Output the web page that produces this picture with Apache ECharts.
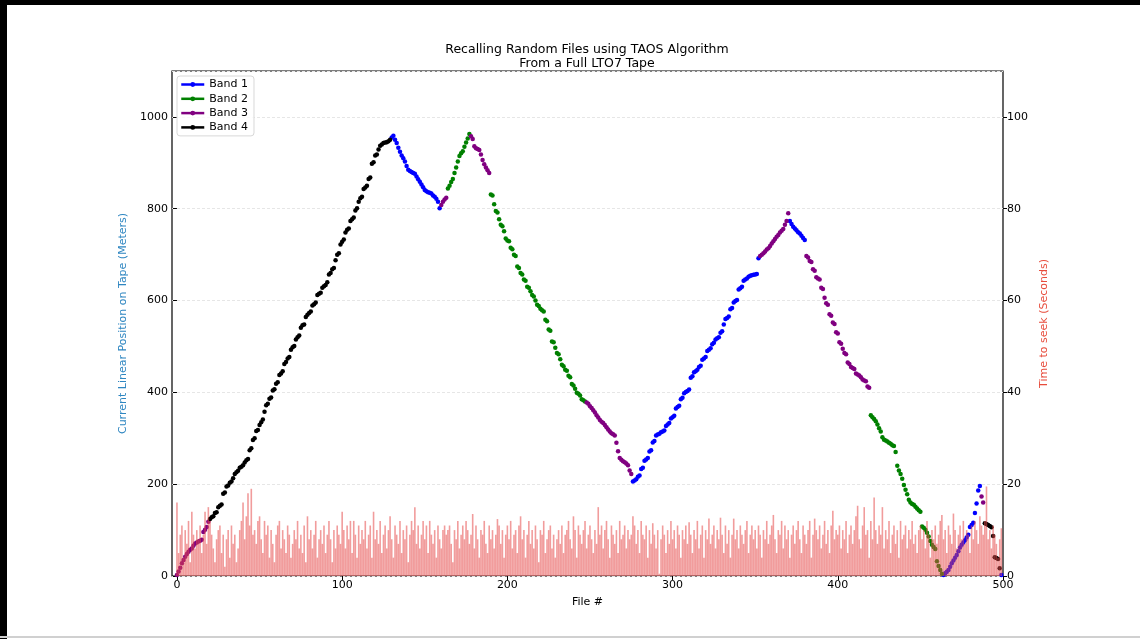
<!DOCTYPE html>
<html>
<head>
<meta charset="utf-8">
<script src="https://cdn.jsdelivr.net/npm/echarts@6/dist/echarts.min.js"></script>
<style>
  html, body { margin: 0; padding: 0; background: #fff; }
  #chart { width: 1140px; height: 639px; }
</style>
</head>
<body>
<div id="chart"></div>
<script>
// tape position (m) of each recalled file, file # = index
var position = [
  2, 10, 18, 28, 35, 42, 48, 53, 57, 60, 66, 71, 73, 75, 77, 79, 96, 101, 107, 118,
  124, 128, 130, 137, 139, 150, 153, 156, 179, 182, 195, 197, 203, 206, 213, 222, 226, 229, 236, 238,
  241, 247, 252, 255, 274, 278, 296, 300, 316, 318, 329, 335, 341, 358, 372, 375, 386, 389, 404, 407,
  419, 422, 438, 441, 446, 462, 466, 474, 477, 493, 498, 501, 515, 520, 524, 541, 546, 548, 564, 569,
  573, 576, 589, 592, 596, 612, 615, 617, 628, 631, 634, 640, 657, 660, 668, 671, 688, 700, 703, 722,
  728, 733, 748, 754, 757, 773, 777, 781, 796, 801, 815, 823, 826, 843, 846, 850, 865, 868, 898, 901,
  916, 918, 929, 937, 940, 943, 944, 945, 947, 950, 955, 959, 950, 943, 933, 924, 916, 910, 903, 893,
  885, 882, 880, 878, 876, 870, 864, 859, 853, 847, 841, 838, 836, 835, 833, 829, 826, 822, 815, 801,
  808, 815, 820, 824, 844, 850, 858, 865, 878, 890, 903, 915, 921, 925, 935, 944, 953, 963, 958, 952,
  936, 932, 930, 928, 918, 906, 897, 890, 884, 878, 831, 829, 810, 795, 792, 777, 765, 762, 751, 735,
  731, 729, 715, 712, 700, 697, 674, 671, 660, 657, 646, 643, 630, 628, 620, 612, 609, 600, 591, 588,
  582, 579, 576, 558, 555, 537, 534, 511, 509, 497, 486, 483, 472, 460, 457, 449, 447, 436, 433, 418,
  415, 408, 399, 397, 393, 385, 383, 380, 378, 375, 370, 366, 361, 356, 350, 345, 340, 336, 333, 329,
  324, 319, 315, 311, 309, 306, 290, 272, 257, 253, 250, 248, 245, 241, 230, 222, 206, 208, 211, 216,
  219, 233, 236, 251, 254, 257, 271, 274, 291, 294, 306, 308, 310, 313, 315, 317, 327, 330, 333, 343,
  346, 349, 365, 368, 371, 385, 388, 398, 401, 403, 406, 432, 435, 444, 446, 449, 455, 458, 471, 474,
  477, 490, 493, 496, 505, 508, 515, 518, 520, 530, 533, 548, 560, 562, 565, 581, 584, 596, 599, 601,
  624, 627, 630, 643, 646, 648, 652, 654, 655, 656, 657, 658, 692, 697, 700, 703, 707, 711, 714, 719,
  724, 729, 734, 739, 743, 748, 752, 756, 765, 773, 790, 773, 767, 761, 757, 753, 749, 746, 741, 736,
  732, 697, 694, 686, 684, 668, 665, 651, 648, 646, 628, 625, 606, 594, 591, 570, 567, 552, 549, 531,
  528, 509, 506, 495, 486, 483, 465, 462, 455, 453, 451, 441, 439, 437, 433, 428, 426, 424, 413, 410,
  350, 346, 342, 337, 330, 322, 315, 302, 297, 295, 293, 290, 288, 285, 283, 270, 240, 230, 222, 212,
  198, 188, 178, 166, 160, 157, 155, 151, 147, 143, 140, 108, 105, 101, 94, 86, 76, 68, 63, 59,
  32, 22, 13, 5, 2, 6, 9, 13, 20, 28, 34, 40, 46, 54, 62, 68, 73, 78, 84, 90,
  107, 111, 116, 137, 158, 186, 196, 173, 160, 115, 113, 111, 109, 106, 87, 41, 39, 37, 17, 2
];

// [first file, last file, band]
var bandRuns = [
  [0, 19, 3], [20, 129, 4], [130, 159, 1], [160, 163, 3], [164, 177, 2],
  [178, 189, 3], [190, 247, 2], [248, 275, 3], [276, 352, 1], [353, 370, 3],
  [371, 380, 1], [381, 419, 3], [420, 463, 2], [464, 486, 1], [487, 488, 3],
  [489, 498, 4], [499, 499, 1]
];

// seek time (s) per file
var seekTime = [
  16, 5, 9, 11, 4, 10, 7, 12, 3, 14, 9, 6, 10, 8, 11, 5, 9, 14, 7, 15, 12, 9, 6, 3, 8,
  10, 11, 5, 9, 2, 8, 10, 4, 11, 7, 9, 3, 6, 10, 12, 16, 8, 13, 18, 11, 19, 9, 10, 7, 12,
  13, 8, 5, 12, 9, 11, 4, 10, 7, 3, 9, 11, 12, 6, 10, 8, 5, 11, 9, 4, 7, 10, 8, 12, 6,
  9, 5, 11, 3, 13, 8, 10, 6, 9, 12, 4, 8, 10, 7, 11, 5, 9, 12, 8, 3, 10, 6, 11, 9, 7,
  14, 10, 6, 11, 8, 12, 5, 12, 9, 4, 11, 7, 10, 8, 12, 6, 9, 11, 4, 14, 8, 10, 7, 12, 5,
  9, 11, 6, 10, 13, 8, 4, 11, 9, 7, 12, 5, 10, 8, 11, 3, 9, 12, 10, 15, 7, 11, 6, 9, 12,
  8, 11, 5, 12, 9, 7, 10, 4, 11, 8, 6, 10, 11, 9, 10, 11, 7, 3, 10, 8, 12, 6, 9, 11, 8,
  12, 10, 7, 9, 13.5, 6, 11, 8, 4, 10, 9, 12, 7, 5, 11, 8, 10, 6, 9, 12.4, 11, 7, 10, 4, 9,
  11, 8, 12, 6, 9, 10, 5, 11, 13, 8, 10, 4, 9, 12, 7, 10, 6, 11, 8, 3, 10, 9, 12, 5, 8,
  10, 11, 6, 9, 4, 8, 10, 7, 11, 5, 9, 10, 12, 8, 6, 13, 10, 4, 11, 9, 7, 10, 12, 6, 9,
  11, 8, 5, 10, 7, 15, 9, 11, 6, 10, 12, 8, 4, 11, 9, 7, 10, 5, 12, 8, 9, 11, 6, 10, 8,
  9, 13, 11, 7, 10, 5, 12, 9, 8, 11, 4, 10, 7, 11.5, 9, 6, 10, 0.5, 8, 11, 9, 5, 10, 7, 12,
  8, 10, 6, 11, 9, 4, 10, 8, 11, 7, 11.7, 9, 5, 10, 8, 12, 6, 9, 11, 4, 10, 8, 12.5, 7, 9,
  11, 6, 10, 8, 12.7, 9, 5, 11, 7, 10, 4, 9, 12.5, 8, 10, 6, 11, 9, 7, 10, 12, 5, 9, 11, 8,
  10, 6, 11, 9, 4, 10, 8, 12, 7, 9, 11, 13.3, 8, 5, 10, 9, 12, 6, 11, 8, 10, 4, 9, 11, 7,
  10, 12, 8, 5, 11, 9, 7, 10, 12, 4, 9, 12.5, 10, 8, 11, 6, 9, 12, 7, 10, 5, 11, 14.2, 8, 10,
  9, 11, 6, 10, 8, 12, 5, 9, 11, 7, 10, 13, 15.3, 8, 6, 11, 15, 9, 10, 4, 12, 8, 17.1, 10, 7,
  11, 9, 15, 6, 10, 8, 12, 5, 9, 11, 7, 10, 4, 12, 8, 9, 11, 6, 10, 8, 12, 7, 9, 5, 10,
  11, 8, 10, 6, 12, 9, 4, 10, 8, 11, 7, 9, 12, 13.3, 8, 10, 5, 11, 9, 7, 13.6, 10, 6, 9, 11,
  8, 12, 7, 10, 9, 5, 11, 8, 12, 10, 7, 13, 11, 9, 12, 19.5, 8, 10, 6, 11, 9, 7, 4, 8, 10.4
];

var bandNames = ['Band 1', 'Band 2', 'Band 3', 'Band 4'];
var bandColors = ['#0000ff', '#008000', '#800080', '#000000'];
var xTicks = [0, 100, 200, 300, 400, 500];

function bandOf(i) {
  for (var k = 0; k < bandRuns.length; k++) {
    if (i >= bandRuns[k][0] && i <= bandRuns[k][1]) return bandRuns[k][2];
  }
  return 0;
}

var chart = echarts.init(document.getElementById('chart'));
var font = 'DejaVu Sans';

var series = bandNames.map(function (name, b) {
  var pts = [];
  position.forEach(function (v, i) {
    if (bandOf(i) === b + 1) pts.push([i, v]);
  });
  return {
    name: name,
    type: 'line',
    data: pts,
    symbol: 'circle',
    symbolSize: 4.5,
    showAllSymbol: true,
    itemStyle: { color: bandColors[b] },
    lineStyle: { opacity: 0, color: bandColors[b] },
    z: 2
  };
});

series.push({
  name: 'seek',
  type: 'bar',
  xAxisIndex: 0,
  yAxisIndex: 1,
  data: seekTime.map(function (v, i) { return [i, v]; }),
  barWidth: 1.6,
  itemStyle: { color: 'rgba(230, 75, 75, 0.55)' },
  z: 5
});

var titleStyle = { fontFamily: font, fontSize: 12.5, fontWeight: 'normal', color: '#000' };

chart.setOption({
  animation: false,
  backgroundColor: '#fff',
  title: [
    { text: 'Recalling Random Files using TAOS Algorithm', left: 587, textAlign: 'center', top: 43, padding: 0, textStyle: titleStyle },
    { text: 'From a Full LTO7 Tape', left: 587, textAlign: 'center', top: 57, padding: 0, textStyle: titleStyle }
  ],
  legend: {
    data: bandNames,
    orient: 'vertical',
    left: 177,
    top: 76,
    itemWidth: 23,
    itemHeight: 6,
    itemGap: 3.3,
    padding: [3, 6, 3, 3],
    borderColor: '#d8d8d8',
    borderWidth: 1,
    borderRadius: 3,
    backgroundColor: 'rgba(255,255,255,0.8)',
    lineStyle: { opacity: 1, width: 2.5 },
    textStyle: { fontFamily: font, fontSize: 11, color: '#000' }
  },
  grid: {
    left: 172, right: 137, top: 71, bottom: 63,
    show: true, borderColor: '#000', borderWidth: 1.2, backgroundColor: 'transparent'
  },
  xAxis: {
    type: 'value',
    min: -3,
    max: 500,
    name: 'File #',
    nameLocation: 'middle',
    nameGap: 21,
    nameTextStyle: { fontFamily: font, fontSize: 11, color: '#000' },
    axisLine: { show: false },
    axisTick: { show: true, customValues: xTicks, length: 4, lineStyle: { color: '#000' } },
    axisLabel: { customValues: xTicks, fontFamily: font, fontSize: 11, color: '#000', margin: 4 },
    splitLine: { show: false }
  },
  yAxis: [{
    type: 'value',
    min: 0,
    max: 1100,
    interval: 200,
    name: 'Current Linear Position on Tape (Meters)',
    nameLocation: 'middle',
    nameGap: 38,
    nameTextStyle: { fontFamily: font, fontSize: 11, color: '#2e86c1' },
    axisLine: { show: false },
    axisTick: { show: true, length: 4, lineStyle: { color: '#000' } },
    axisLabel: { showMaxLabel: false, formatter: function (v) { return String(v); }, fontFamily: font, fontSize: 11, color: '#000', margin: 4 },
    splitLine: { show: true, lineStyle: { color: '#e6e6e6', width: 1, type: [3, 2] } }
  }, {
    type: 'value',
    min: 0,
    max: 110,
    interval: 20,
    name: 'Time to seek (Seconds)',
    nameLocation: 'middle',
    nameGap: 30,
    nameTextStyle: { fontFamily: font, fontSize: 11, color: '#e74c3c' },
    axisLine: { show: false },
    axisTick: { show: true, length: 4, lineStyle: { color: '#000' } },
    axisLabel: { showMaxLabel: false, fontFamily: font, fontSize: 11, color: '#000', margin: 4 },
    splitLine: { show: false }
  }],
  graphic: [
    { type: 'rect', shape: { x: 0, y: 0, width: 1140, height: 5 }, style: { fill: '#000' }, z: 100 },
    { type: 'rect', shape: { x: 0, y: 0, width: 7, height: 639 }, style: { fill: '#000' }, z: 100 },
    { type: 'rect', shape: { x: 0, y: 636, width: 1140, height: 2 }, style: { fill: '#d0d0d0' }, z: 100 }
  ],
  series: series
});
</script>
</body>
</html>
